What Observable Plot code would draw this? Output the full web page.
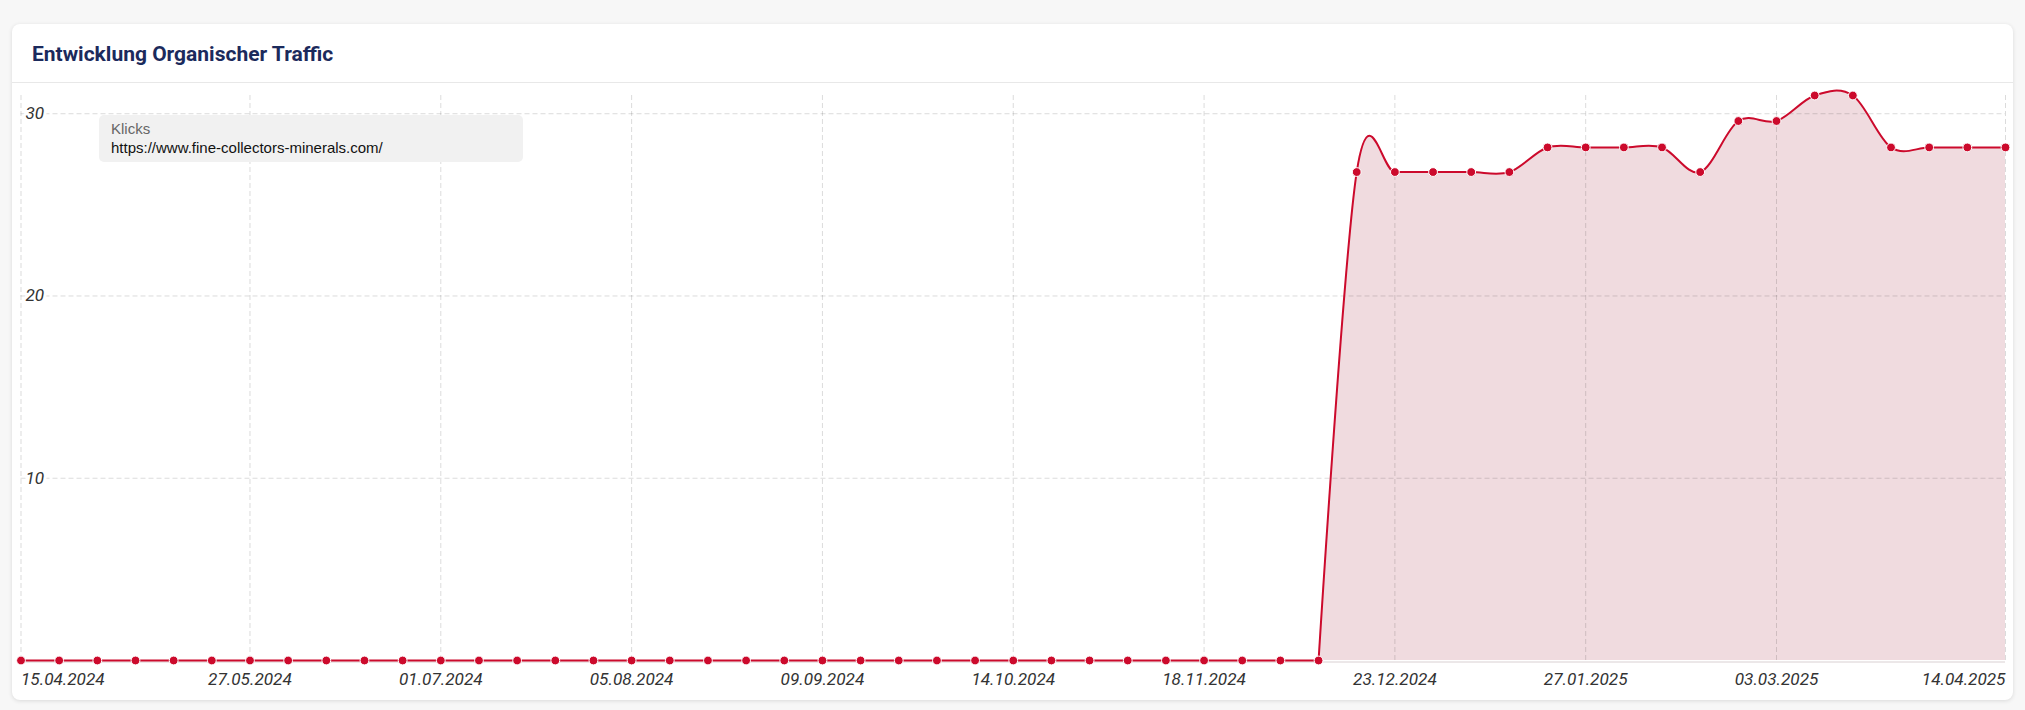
<!DOCTYPE html>
<html>
<head>
<meta charset="utf-8">
<script src="https://cdn.jsdelivr.net/npm/d3@7"></script>
<script src="https://cdn.jsdelivr.net/npm/@observablehq/plot@0.6"></script>
<style>
  html, body { margin: 0; padding: 0; }
  body { background: #f7f7f7; width: 2025px; height: 710px; overflow: hidden; font-family: Roboto, "Noto Sans", sans-serif; position: relative; }
  #card { position: absolute; left: 12px; top: 24px; width: 2001px; height: 676px; background: #fff; border-radius: 8px; box-shadow: 0 1px 4px rgba(0,0,0,0.12); }
  #title { position: absolute; left: 32px; top: 42px; font-family: Roboto, sans-serif; font-weight: 700; font-size: 21px; line-height: 24px; color: #1b2a5c; }
  #sep { position: absolute; left: 12px; top: 82px; width: 2001px; height: 1px; background: #e8e8e8; }
  #chart { position: absolute; left: 0; top: 81px; }
  #legend { position: absolute; left: 99px; top: 115px; width: 424px; height: 47px; background: #f1f1f1; border-radius: 5px;
            font-family: "Liberation Sans", Arial, sans-serif; font-size: 15px; line-height: 19px; box-sizing: border-box; padding: 4px 0 0 12px; }
  #legend .name { color: #666; }
  #legend .url { color: #111; }
</style>
</head>
<body>
<div id="card"></div>
<div id="title">Entwicklung Organischer Traffic</div>
<div id="sep"></div>
<div id="chart"></div>
<div id="legend"><div class="name">Klicks</div><div class="url">https://www.fine-collectors-minerals.com/</div></div>
<script>
// ---- data ----
const startDate = "2024-04-15";           // first week (Monday)
const weekCount = 53;                      // weekly points 15.04.2024 .. 14.04.2025
const clicks = [
  0, 0, 0, 0, 0, 0, 0, 0, 0, 0,
  0, 0, 0, 0, 0, 0, 0, 0, 0, 0,
  0, 0, 0, 0, 0, 0, 0, 0, 0, 0,
  0, 0, 0, 0, 0,
  26.8, 26.8, 26.8, 26.8, 26.8,
  28.15, 28.15, 28.15, 28.15,
  26.8, 29.6, 29.6, 31.0, 31.0,
  28.15, 28.15, 28.15, 28.15
];
const xTickLabels = ["15.04.2024", "27.05.2024", "01.07.2024", "05.08.2024", "09.09.2024", "14.10.2024",
                     "18.11.2024", "23.12.2024", "27.01.2025", "03.03.2025", "14.04.2025"];
const yTicks = [10, 20, 30];

// ---- build ----
const parseDE = d3.utcParse("%d.%m.%Y");
const start = d3.utcParse("%Y-%m-%d")(startDate);
const dates = d3.range(weekCount).map(i => d3.utcDay.offset(start, 7 * i));
const data = dates.map((d, i) => ({date: d, value: clicks[i]}));
const ticks = xTickLabels.map(s => ({date: parseDE(s), label: s}));

// flat run of zeros is drawn straight; the smoothed part starts at the last zero
const lastZero = clicks.findIndex(v => v > 0) - 1;
const flatPart = data.slice(0, lastZero + 1);
const smoothPart = data.slice(lastZero);

const red = "#cc0a2c";
const gridStyle = {stroke: "#000", strokeOpacity: 0.14, strokeDasharray: "5,3"};
const labelStyle = {fontFamily: "Roboto, sans-serif", fontStyle: "italic", fontSize: 17.2, fill: "#333"};

const chart = Plot.plot({
  width: 2025,
  height: 620,
  marginLeft: 20.5,
  marginRight: 20,
  marginTop: 14,
  marginBottom: 41,
  style: {background: "transparent", overflow: "visible"},
  x: {type: "utc", domain: [dates[0], dates[dates.length - 1]], axis: null},
  y: {domain: [0, d3.max(clicks)], axis: null},
  marks: [
    Plot.areaY(smoothPart, {x: "date", y: "value", curve: "cardinal", fill: "#f0dbdf"}),
    Plot.ruleY([0], {stroke: "#d9d0d2", dy: 1.5}),
    Plot.ruleY(yTicks, gridStyle),
    Plot.ruleX(ticks, {x: "date", ...gridStyle}),
    Plot.lineY(flatPart, {x: "date", y: "value", stroke: red, strokeWidth: 2}),
    Plot.lineY(smoothPart, {x: "date", y: "value", curve: "cardinal", stroke: red, strokeWidth: 2}),
    Plot.dot(data, {x: "date", y: "value", r: 4.4, fill: red, stroke: "white", strokeWidth: 1}),
    // y labels (halo + text)
    Plot.text(yTicks, {frameAnchor: "left", y: d => d, text: d => String(d), textAnchor: "start", dx: 4.5,
                       ...labelStyle, fill: "white", stroke: "white", strokeWidth: 6}),
    Plot.text(yTicks, {frameAnchor: "left", y: d => d, text: d => String(d), textAnchor: "start", dx: 4.5, ...labelStyle}),
    // x labels
    Plot.text(ticks.slice(0, 1), {x: "date", text: "label", frameAnchor: "bottom", dy: 19, lineAnchor: "middle", textAnchor: "start", ...labelStyle}),
    Plot.text(ticks.slice(1, -1), {x: "date", text: "label", frameAnchor: "bottom", dy: 19, lineAnchor: "middle", textAnchor: "middle", ...labelStyle}),
    Plot.text(ticks.slice(-1), {x: "date", text: "label", frameAnchor: "bottom", dy: 19, lineAnchor: "middle", textAnchor: "end", ...labelStyle})
  ]
});
document.getElementById("chart").appendChild(chart);
</script>
</body>
</html>
